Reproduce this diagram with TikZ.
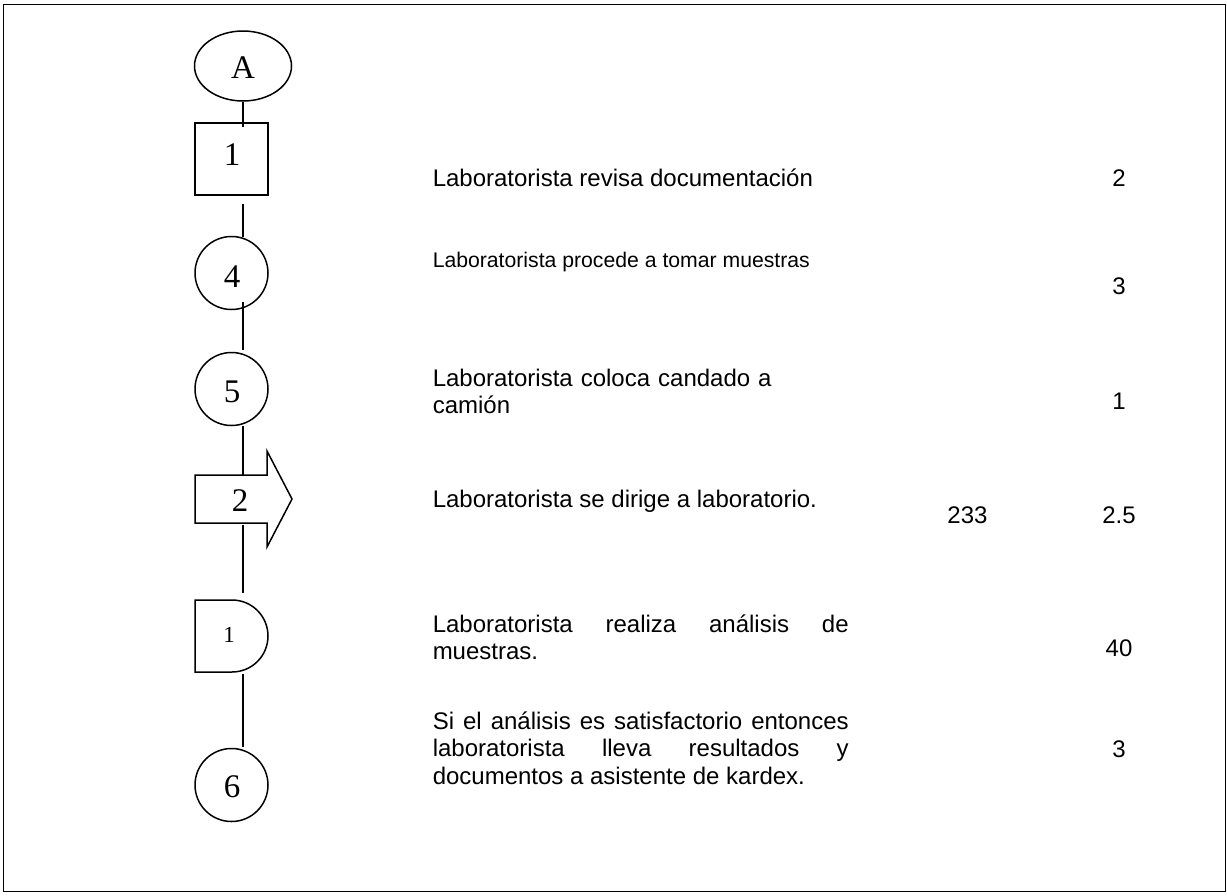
\documentclass[tikz,border=0pt]{standalone}
\usepackage{fontspec}
\setmainfont{Liberation Serif}
\newfontfamily\arial{Liberation Sans}
\usetikzlibrary{shapes.geometric,calc}
\begin{document}
\begin{tikzpicture}[x=1pt,y=-1pt,
  line width=1.5pt,
  shapebox/.style={draw,inner sep=0pt},
  sym/.style={font=\fontsize{33}{33}\selectfont,inner sep=0pt,anchor=base},
  desc/.style={font=\arial\fontsize{24}{27.5}\selectfont,inner sep=0pt,anchor=base west},
  num/.style={font=\arial\fontsize{24}{27}\selectfont,inner sep=0pt,anchor=base},
  link/.style={draw,line width=1.5pt}]
\useasboundingbox (0,0) rectangle (1227,895);
\draw[line width=1.6pt] (3.5,4.5) rectangle (1225.5,891.5);

% process symbols
\node[shapebox,ellipse,minimum width=97pt,minimum height=70pt] (A) at (243,66) {};
\node[sym] (tA) at (243,78) {A};
\node[shapebox,minimum width=73pt,minimum height=72pt] (sq) at (231.5,159) {};
\node[sym] (t1) at (232,165) {1};
\node[shapebox,circle,minimum size=73pt] (c4) at (231.5,273) {};
\node[sym] (t4) at (232,287) {4};
\node[shapebox,circle,minimum size=73pt] (c5) at (231.5,389) {};
\node[sym] (t5) at (232,402) {5};
% transport arrow
\draw (195,475) -- (267,475) -- (267,451) -- (292,499) -- (267,547) -- (267,523) -- (195,523) -- cycle;
\coordinate (arrTop) at (243,475);
\coordinate (arrBot) at (243,525);
\node[sym] (t2) at (240,511) {2};
% delay
\draw (195,600) -- (232,600) arc[start angle=90,end angle=-90,radius=36pt] -- (195,672) -- cycle;
\coordinate (delTop) at (243,593);
\coordinate (delBot) at (243,674);
\node[sym,font=\fontsize{23}{23}\selectfont] (td) at (229,642) {1};
\node[shapebox,circle,minimum size=73pt] (c6) at (231.5,785) {};
\node[sym] (t6) at (232,797) {6};

% connectors
\draw[link] (A.south) -- ($(A.south |- sq.north)+(0,5)$);
\draw[link] ($(A.south |- sq.south)+(0,8)$) -- ($(A.south |- c4.north)+(0,1)$);
\draw[link] ($(A.south |- c4.south)+(0,-8)$) -- ($(A.south |- c5.north)+(0,-2)$);
\draw[link] ($(A.south |- c5.south)$) -- (arrTop);
\draw[link] (arrBot) -- (delTop);
\draw[link] (delBot) -- ($(A.south |- c6.north)+(0,-1)$);

% descriptions
\node[desc] (d1) at (432,186) {Laboratorista revisa documentación};
\node[desc,font=\arial\fontsize{21.2}{25}\selectfont] (d2) at (432,267) {Laboratorista procede a tomar muestras};
\node[desc,text width=416pt,align=left] (d3) at (432,386) {Laboratorista coloca candado a\\camión};
\node[desc] (d4) at (432,507) {Laboratorista se dirige a laboratorio.};
\node[desc,text width=416pt,align=justify] (d5) at (432,632) {Laboratorista realiza análisis de\linebreak muestras.};
\node[desc,text width=416pt,align=justify] (d6) at (432,729) {Si el análisis es satisfactorio entonces\linebreak laboratorista lleva resultados y\linebreak documentos a asistente de kardex.};

% figures
\node[num] (n1) at (1119,186) {2};
\node[num] (n2) at (1119,294) {3};
\node[num] (n3) at (1119,409) {1};
\node[num] (n4a) at (967.5,523) {233};
\node[num] (n4) at (1119,523) {2.5};
\node[num] (n5) at (1119,656) {40};
\node[num] (n6) at (1119,757) {3};
\end{tikzpicture}
\end{document}
